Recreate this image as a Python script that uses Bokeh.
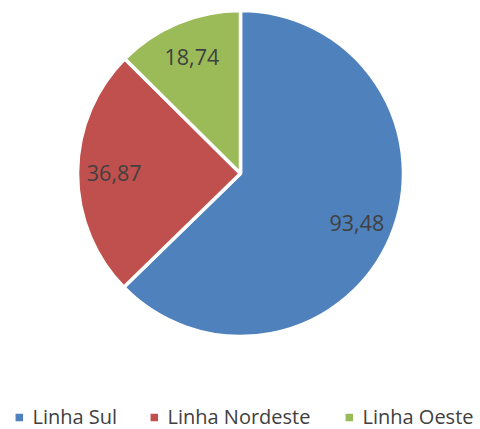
import math
from bokeh.plotting import figure
from bokeh.models import Range1d, ColumnDataSource
from bokeh.core.properties import value
from bokeh.embed import file_html
from bokeh.resources import INLINE

categories = ["Linha Sul", "Linha Nordeste", "Linha Oeste"]
values = [93.48, 36.87, 18.74]
labels = ["93,48", "36,87", "18,74"]
colors = ["#4F81BD", "#C0504D", "#9BBB59"]

W, H = 480, 429
p = figure(width=W, height=H, output_backend="svg", toolbar_location=None,
           x_range=Range1d(0, W), y_range=Range1d(-H, 0),
           min_border=0, min_border_left=0, min_border_right=0,
           min_border_top=0, min_border_bottom=0)
p.axis.visible = False
p.grid.visible = False
p.outline_line_color = None
p.background_fill_color = "white"

cx, cy, R = 240, -173, 163
total = sum(values)
starts, ends, lx, ly = [], [], [], []
a = math.pi / 2
for v in values:
    span = v / total * 2 * math.pi
    s = a
    e = a - span
    starts.append(s)
    ends.append(e)
    mid = (s + e) / 2
    lx.append(cx + 0.775 * R * math.cos(mid))
    ly.append(cy + 0.775 * R * math.sin(mid))
    a = e

src = ColumnDataSource(dict(start=starts, end=ends, color=colors,
                            lx=lx, ly=ly, label=labels))
p.wedge(x=cx, y=cy, radius=R, start_angle="end", end_angle="start",
        fill_color="color", line_color="white", line_width=3.5, source=src)
p.text(x="lx", y="ly", text="label", source=src, text_align="center",
       text_baseline="middle", text_font=value("Open Sans"),
       text_font_size="21.5px", text_color="#404040")

# legend
leg_sq_x = [18.8, 153.8, 348.8]
leg_tx = [32, 167, 362]
leg_y = -417
p.rect(x=leg_sq_x, y=[leg_y] * 3, width=7.5, height=7.5, fill_color=colors,
       line_color=None)
p.text(x=leg_tx, y=[-416] * 3, text=categories, text_align="left",
       text_baseline="middle", text_font=value("Open Sans"),
       text_font_size="20px", text_color="#404040")

open("out.html", "w").write(file_html(p, INLINE))
